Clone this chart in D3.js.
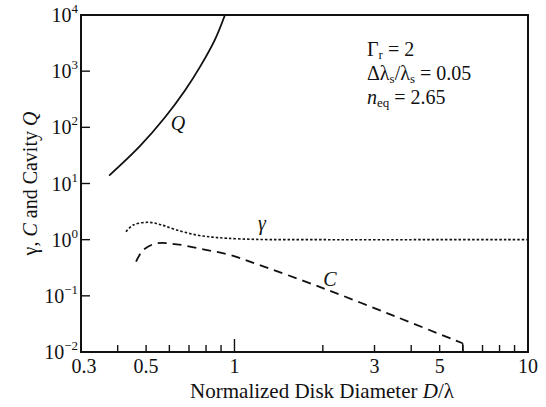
<!DOCTYPE html>
<html>
<head>
<meta charset="utf-8">
<script src="https://cdn.jsdelivr.net/npm/d3@7"></script>
<style>
  body { margin: 0; background: #fff; }
  text { font-family: "Liberation Serif", "DejaVu Serif", serif; fill: #111; }
</style>
</head>
<body>
<div id="chart"></div>
<script>
// data (D/lambda on x, log y)
const qX = [0.374, 0.477, 0.580, 0.679, 0.763, 0.858, 0.928];
const qY = [13.8, 46.7, 151, 458, 1191, 3646, 10000];

const gammaX = [0.427, 0.452, 0.509, 0.56, 0.635, 0.743, 0.841, 0.941, 1.19, 2, 5, 10];
const gammaY = [1.39, 1.82, 2.04, 1.85, 1.49, 1.21, 1.11, 1.06, 1.01, 1.0, 1.0, 1.0];

const cX = [0.462, 0.489, 0.543, 0.635, 0.783, 0.966, 1.19, 2.01, 3.57, 5.99, 6.0];
const cY = [0.405, 0.655, 0.861, 0.827, 0.673, 0.533, 0.369, 0.136, 0.042, 0.0143, 0.01];

const xLabels = [0.3, 0.5, 1, 3, 5, 10];
const xMinor = [0.4, 0.6, 0.7, 0.8, 0.9, 2, 4, 6, 7, 8, 9];
const yExps = [-2, -1, 0, 1, 2, 3, 4];

const W = 546, H = 407;
const margin = {top: 15, right: 18, bottom: 55, left: 81};

const svg = d3.select("#chart").append("svg")
  .attr("width", W)
  .attr("height", H);

const x = d3.scaleLog().domain([0.3, 10]).range([margin.left, W - margin.right]);
const y = d3.scaleLog().domain([0.01, 10000]).range([H - margin.bottom, margin.top]);

const x0 = x.range()[0], x1 = x.range()[1];
const y0 = y.range()[0], y1 = y.range()[1];

// curves
const line = d3.line().x(d => x(d[0])).y(d => y(d[1])).curve(d3.curveCatmullRom.alpha(0.5));

svg.append("path")
  .attr("d", line(d3.zip(qX, qY)))
  .attr("fill", "none").attr("stroke", "#111").attr("stroke-width", 1.8);

svg.append("path")
  .attr("d", line(d3.zip(gammaX, gammaY)))
  .attr("fill", "none").attr("stroke", "#111").attr("stroke-width", 1.6)
  .attr("stroke-dasharray", "2.5,2");

const cPts = d3.zip(cX, cY);
svg.append("path")
  .attr("d", line(cPts.slice(0, -1)))
  .attr("fill", "none").attr("stroke", "#111").attr("stroke-width", 1.8)
  .attr("stroke-dasharray", "9,6");
// short drop of C onto the axis
svg.append("path")
  .attr("d", d3.line().x(d => x(d[0])).y(d => y(d[1]))(cPts.slice(-2)))
  .attr("fill", "none").attr("stroke", "#111").attr("stroke-width", 1.5);

// frame
svg.append("rect")
  .attr("x", x0).attr("y", y1)
  .attr("width", x1 - x0).attr("height", y0 - y1)
  .attr("fill", "none").attr("stroke", "#111").attr("stroke-width", 2);

// x ticks (inward)
const xt = svg.append("g");
xLabels.concat(xMinor).forEach(v => {
  if (v === 0.3 || v === 10) return;
  const len = v === 1 ? 13 : 7;
  xt.append("line")
    .attr("x1", x(v)).attr("x2", x(v))
    .attr("y1", y0).attr("y2", y0 - len)
    .attr("stroke", "#111").attr("stroke-width", 1.4);
});
xLabels.forEach(v => {
  xt.append("text")
    .attr("x", x(v) + (v === 0.3 ? 3 : 0)).attr("y", y0 + 21)
    .attr("text-anchor", "middle")
    .attr("font-size", 20)
    .text(v);
});

// y ticks (inward)
const yt = svg.append("g");
yExps.forEach(e => {
  const v = Math.pow(10, e);
  if (e !== -2 && e !== 4) {
    yt.append("line")
      .attr("x1", x0).attr("x2", x0 + 9)
      .attr("y1", y(v)).attr("y2", y(v))
      .attr("stroke", "#111").attr("stroke-width", 1.4);
  }
  const t = yt.append("text")
    .attr("x", x0 - 3).attr("y", y(v) + 7)
    .attr("text-anchor", "end")
    .attr("font-size", 20);
  t.append("tspan").text("10");
  t.append("tspan").attr("dy", -9).attr("font-size", 13)
    .text(e < 0 ? "\u2212" + Math.abs(e) : e);
});

// axis titles
svg.append("text")
  .attr("x", 322).attr("y", H - 9)
  .attr("text-anchor", "middle")
  .attr("font-size", 21)
  .call(t => {
    t.append("tspan").text("Normalized Disk Diameter ");
    t.append("tspan").attr("font-style", "italic").text("D");
    t.append("tspan").text("/\u03bb");
  });

svg.append("text")
  .attr("transform", `translate(37,${(y0 + y1) / 2}) rotate(-90)`)
  .attr("text-anchor", "middle")
  .attr("font-size", 20)
  .call(t => {
    t.append("tspan").text("\u03b3, ");
    t.append("tspan").attr("font-style", "italic").text("C");
    t.append("tspan").text(" and Cavity ");
    t.append("tspan").attr("font-style", "italic").text("Q");
  });

// curve labels
svg.append("text").attr("x", 178).attr("y", 130)
  .attr("text-anchor", "middle")
  .attr("font-size", 20).attr("font-style", "italic").text("Q");
svg.append("text").attr("x", 262).attr("y", 230)
  .attr("text-anchor", "middle")
  .attr("font-size", 20).attr("font-style", "italic").text("\u03b3");
svg.append("text").attr("x", 330).attr("y", 286)
  .attr("text-anchor", "middle")
  .attr("font-size", 20).attr("font-style", "italic").text("C");

// parameter box
const ann = svg.append("g").attr("font-size", 20);
ann.append("text").attr("x", 367).attr("y", 56)
  .call(t => {
    t.append("tspan").text("\u0393");
    t.append("tspan").attr("font-size", 13).attr("dy", 3).text("r");
    t.append("tspan").attr("dy", -3).text(" = 2");
  });
ann.append("text").attr("x", 367).attr("y", 80)
  .call(t => {
    t.append("tspan").text("\u0394\u03bb");
    t.append("tspan").attr("font-size", 13).attr("dy", 3).text("s");
    t.append("tspan").attr("dy", -3).text("/\u03bb");
    t.append("tspan").attr("font-size", 13).attr("dy", 3).text("s");
    t.append("tspan").attr("dy", -3).text(" = 0.05");
  });
ann.append("text").attr("x", 367).attr("y", 104)
  .call(t => {
    t.append("tspan").attr("font-style", "italic").text("n");
    t.append("tspan").attr("font-size", 13).attr("dy", 3).text("eq");
    t.append("tspan").attr("dy", -3).text(" = 2.65");
  });
</script>
</body>
</html>
